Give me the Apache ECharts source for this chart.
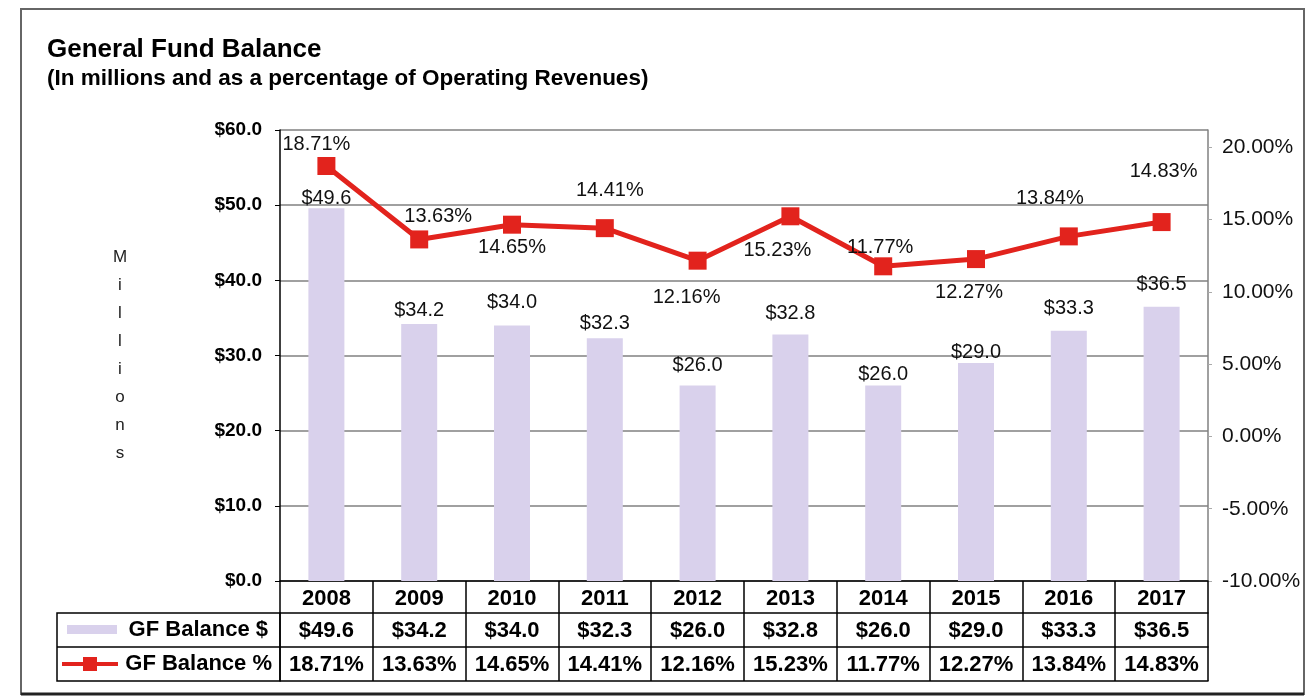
<!DOCTYPE html>
<html lang="en">
<head>
    <meta charset="UTF-8">
    <title>General Fund Balance</title>
    <script src="https://cdn.jsdelivr.net/npm/echarts@6/dist/echarts.min.js"></script>
    <style>
        html, body { margin: 0; padding: 0; background: #fff; }
        #main { width: 1309px; height: 700px; }
    </style>
</head>
<body>
<div id="main"></div>
<script>
    // data
    var years = ['2008', '2009', '2010', '2011', '2012', '2013', '2014', '2015', '2016', '2017'];
    var balances = [49.6, 34.2, 34.0, 32.3, 26.0, 32.8, 26.0, 29.0, 33.3, 36.5];
    var pcts = [18.71, 13.63, 14.65, 14.41, 12.16, 15.23, 11.77, 12.27, 13.84, 14.83];
    var rowNames = ['GF Balance $', 'GF Balance %'];

    // label placement (style only)
    var barLabelGap = [0, 3, 13, 5, 10, 11, 1, 1, 12, 12];
    var pctLabelOffset = [[-10, -22], [19, -23], [0, 23], [5, -38], [-11, 37],
        [-13, 34], [-3, -19], [-7, 33], [-19, -38], [2, -51]];

    var FONT = '"Liberation Sans", Arial, sans-serif';
    var barColor = '#d9d1ec';
    var red = '#e2231d';
    var gridColor = '#808080';

    var gridLeft = 280, gridRight = 101, gridTop = 130, gridBottom = 119;

    function money(v) { return '$' + v.toFixed(1); }
    function pct(v) { return v.toFixed(2) + '%'; }

    var myChart = echarts.init(document.getElementById('main'));

    var tableAxis = function (offset, fmt, showLabel) {
        return {
            type: 'category',
            data: years,
            position: 'bottom',
            offset: offset,
            axisLine: {show: true, onZero: false, lineStyle: {color: '#000', width: 1.5}},
            axisTick: {show: false},
            axisLabel: {
                show: showLabel,
                interval: 0,
                margin: 7,
                fontFamily: FONT,
                fontSize: 22,
                fontWeight: 'bold',
                color: '#000',
                formatter: fmt
            }
        };
    };

    var option = {
        backgroundColor: '#fff',
        animation: false,
        title: {
            text: 'General Fund Balance',
            subtext: '(In millions and as a percentage of Operating Revenues)',
            left: 42,
            top: 32,
            itemGap: 4,
            textStyle: {fontFamily: FONT, fontSize: 26, fontWeight: 'bold', color: '#000'},
            subtextStyle: {fontFamily: FONT, fontSize: 22.5, fontWeight: 'bold', color: '#000'}
        },
        grid: {left: gridLeft, right: gridRight, top: gridTop, bottom: gridBottom},
        xAxis: [
            {
                type: 'category',
                data: years,
                position: 'bottom',
                axisLine: {show: true, onZero: false, lineStyle: {color: '#000', width: 1.5}},
                axisTick: {show: true, length: 100, lineStyle: {color: '#000', width: 1.5}},
                axisLabel: {
                    interval: 0, margin: 7, fontFamily: FONT, fontSize: 22,
                    fontWeight: 'bold', color: '#000'
                }
            },
            tableAxis(32, function (v, i) { return money(balances[i]); }, true),
            tableAxis(66, function (v, i) { return pct(pcts[i]); }, true),
            tableAxis(100, function () { return ''; }, false)
        ],
        yAxis: [
            {
                type: 'value',
                min: 0,
                max: 60,
                interval: 10,
                name: 'M\ni\nl\nl\ni\no\nn\ns',
                nameLocation: 'middle',
                nameRotate: 0,
                nameGap: 160,
                nameTextStyle: {
                    fontFamily: FONT, fontSize: 17, color: '#222',
                    align: 'center', lineHeight: 28
                },
                axisLine: {show: true, lineStyle: {color: '#000', width: 1.5}},
                axisTick: {show: true, length: 5, lineStyle: {color: '#000'}},
                axisLabel: {
                    margin: 18, fontFamily: FONT, fontSize: 19, fontWeight: 'bold', color: '#000',
                    formatter: function (v) { return money(v); }
                },
                splitLine: {show: true, lineStyle: {color: gridColor, width: 1.5}}
            },
            {
                type: 'value',
                min: -10,
                max: 21.2,
                interval: 5,
                position: 'right',
                axisLine: {show: true, lineStyle: {color: gridColor, width: 1.5}},
                axisTick: {show: true, length: 4, lineStyle: {color: '#aaa'}},
                axisLabel: {
                    margin: 14, fontFamily: FONT, fontSize: 21, color: '#111',
                    showMaxLabel: false,
                    formatter: function (v) { return v % 5 === 0 ? pct(v) : ''; }
                },
                splitLine: {show: false}
            }
        ],
        series: [
            {
                name: rowNames[0],
                type: 'bar',
                xAxisIndex: 0,
                yAxisIndex: 0,
                barWidth: 36,
                itemStyle: {color: barColor},
                label: {
                    show: true, position: 'top', fontFamily: FONT, fontSize: 20, color: '#111',
                    formatter: function (p) { return money(p.value); }
                },
                data: balances.map(function (v, i) {
                    return {value: v, label: {distance: barLabelGap[i]}};
                })
            },
            {
                name: rowNames[1],
                type: 'line',
                xAxisIndex: 0,
                yAxisIndex: 1,
                symbol: 'rect',
                symbolSize: 18,
                lineStyle: {color: red, width: 5},
                itemStyle: {color: red},
                label: {
                    show: true, position: 'inside', fontFamily: FONT, fontSize: 20, color: '#111',
                    formatter: function (p) { return pct(p.value); }
                },
                z: 5,
                data: pcts.map(function (v, i) {
                    return {value: v, label: {offset: pctLabelOffset[i]}};
                })
            }
        ],
        graphic: [
            // outer frame
            {
                type: 'rect', z: -1,
                shape: {x: 21, y: 9, width: 1283, height: 685},
                style: {fill: 'none', stroke: '#666', lineWidth: 2}
            },
            {
                type: 'line',
                shape: {x1: 21, y1: 694, x2: 1304, y2: 694},
                style: {stroke: '#222', lineWidth: 3}
            },
            // row label column of the data table
            {
                type: 'rect',
                shape: {x: 57, y: 613, width: gridLeft - 57, height: 68},
                style: {fill: 'none', stroke: '#000', lineWidth: 1.5}
            },
            {
                type: 'line',
                shape: {x1: 57, y1: 647, x2: gridLeft, y2: 647},
                style: {stroke: '#000', lineWidth: 1.5}
            },
            {
                type: 'rect',
                shape: {x: 67, y: 625, width: 50, height: 9},
                style: {fill: barColor}
            },
            {
                type: 'line',
                shape: {x1: 62, y1: 664, x2: 118, y2: 664},
                style: {stroke: red, lineWidth: 4}
            },
            {
                type: 'rect',
                shape: {x: 83, y: 657, width: 14, height: 14},
                style: {fill: red}
            },
            {
                type: 'text',
                style: {
                    x: 268, y: 630, text: rowNames[0], align: 'right', verticalAlign: 'middle',
                    font: 'bold 22px ' + FONT, fill: '#000'
                }
            },
            {
                type: 'text',
                style: {
                    x: 272, y: 664, text: rowNames[1], align: 'right', verticalAlign: 'middle',
                    font: 'bold 22px ' + FONT, fill: '#000'
                }
            }
        ]
    };

    myChart.setOption(option);
</script>
</body>
</html>
